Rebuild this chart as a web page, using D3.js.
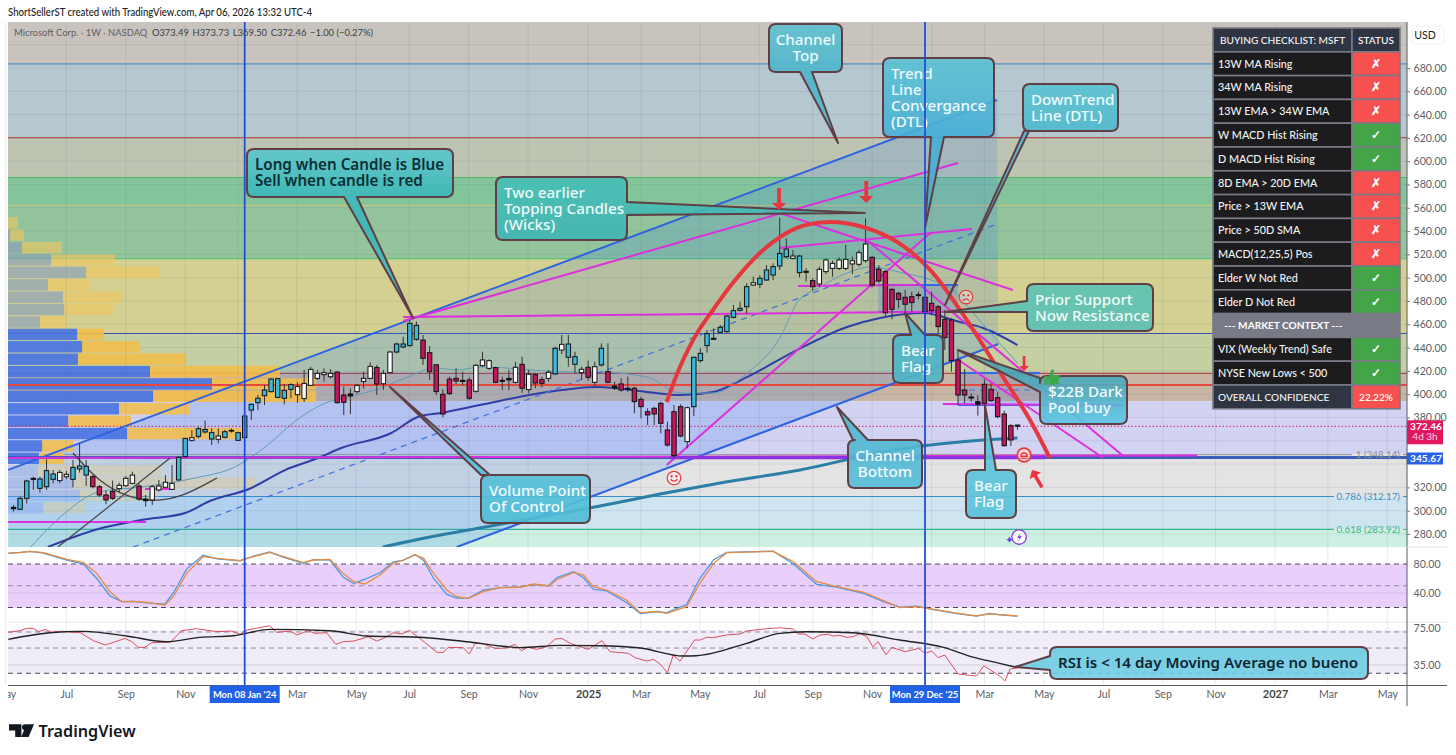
<!DOCTYPE html>
<html>
<head>
<meta charset="utf-8">
<title>MSFT weekly</title>
<script src="https://cdn.jsdelivr.net/npm/d3@7"></script>
<style>
  html, body { margin: 0; padding: 0; background: #fff; }
  text { font-family: Lato, "Open Sans", sans-serif; }
  text.note { font-family: "Noto Sans", "Open Sans", sans-serif; }
</style>
</head>
<body>
<svg id="chart" width="1456" height="755"></svg>
<script>
// weeks are counted from Mon 08 Jan '24
const firstWeek = -35;
const candleHigh = [304.9,312,326.4,329.2,329.2,344.1,334.9,334.9,334.1,343.5,357.8,343.5,330.6,322.1,317.2,325.8,324.1,329.8,333.5,323.5,313.5,322.1,326.4,330.6,339.2,346.4,362.1,369.3,372.1,377.3,370.7,370.7,369.3,370.4,367.8,381.3,392.2,399.3,407.9,413.6,413.6,408.7,409.3,410.2,420.8,423.6,420.8,422.2,421.6,419.9,406.5,405,408.7,419.3,427.4,425.1,420.8,436.8,444.2,449.4,463.7,462.3,450.8,441.4,425.3,404.2,415,422.2,419.3,414.5,425.9,436.5,430,423.6,415.1,420.8,427.9,432.2,420.8,418,415.1,420.8,440.8,450.8,450.8,436.5,423.6,428.8,427.9,443.7,443.7,410.8,413.6,415.1,406.5,397.9,387.9,389.3,393.6,376.4,390.7,391.3,389.3,432.2,439.4,455.1,456.5,459.4,468,476.6,479.4,495.2,500.9,502.3,510.9,512.3,551.5,533.8,523.8,519.5,508,499.5,509.5,516.6,514.6,517.5,528.1,518.1,523.8,551,518.6,510.9,506.6,490.9,488,489.5,488,488,485.5,488,476.6,472.3,465.1,437.9,421.6,400.7,399.3,412.8,409.3,402.2,385.9,374.4,373.73];
const candleBodyTop = [302.9,310.6,325.5,327.8,327.2,334.4,331.5,332.9,331.2,337.2,338.4,338.1,329.2,320.6,313.5,316.6,321.8,327.8,330.6,321.2,310,320.6,321.2,324.4,323.5,345.8,362.1,362.7,370.4,369.8,367,364.1,367.8,369,367,381.3,391.3,396.5,403.6,413,413.3,403.3,408.2,406.5,409.3,421.3,417.9,418.5,417.9,419,399.3,400.2,407.6,413.6,423.9,423,417.9,436.2,443.1,443.1,460.8,459.1,446.5,435.6,425.3,399.9,413,413.6,411.9,412.2,424.8,429.4,428.8,422.8,411.9,413.6,423.1,425.7,417.1,416.8,412.5,418.8,439.4,442.8,443.1,432.2,421.4,423.1,423.6,439.4,419.4,407,408.8,405.1,405.1,395.6,385,387.9,392.2,369.3,385,389.3,388.4,431.7,435.1,452,448,457.4,467.1,471.7,473.7,492.3,495.7,499.5,506.6,509.5,520.9,524.6,518.6,518.6,505.5,497.5,507.2,515.2,512.3,515.2,515.8,514.6,521.5,528.9,517.5,507.2,505.2,490,486.6,483.2,483.7,485.4,483.2,478,475.1,464.3,463.7,429.4,403.6,397.6,393.6,408.5,404.2,397,383,373,373.49];
const candleBodyLow = [301.7,301.2,310.6,326.9,319.2,320.6,326.9,325.8,329.2,326.9,335.8,330.6,320.6,313.5,309.2,310.6,318.9,321.5,323.5,310,308.6,309.2,317.8,320.1,318.3,326.4,346.4,360.4,363.8,367.6,361.5,361.3,363,368.4,360.4,362.7,386.4,392.7,398.7,402.2,397.3,396.5,404.2,399.6,396.2,407.6,413.6,416.8,415,392.7,393,398.5,402.2,411,413.6,408.7,409,418.5,436.2,440.5,441.7,447.1,430.8,419.3,402.2,383,400.5,411.3,411,396.5,402.5,424.5,422.2,410.2,411.1,412.2,410.2,405.1,403.9,409.6,409.3,413.6,417.4,437.9,431.7,425.7,418.5,414.5,410.2,425.1,410.2,405.3,403.6,404.2,393.6,389.3,382.2,383,375,356.4,347.3,364.1,359.3,389.3,428.8,441.7,447.1,453.1,453.7,466,472,475.1,493.7,494.3,498,502.3,510,518,516.6,504.3,504.6,492.3,494.6,505.2,508,508,508,511.8,511.5,514.6,493.7,497.2,470,472.9,481.4,477.2,478.6,484.6,470.9,471.7,458,448.5,428.8,399.3,399.3,396.7,391.3,392.2,394.4,380.7,355.8,360.7,372.46];
const candleLow = [299.2,300.6,306.3,317.8,315.5,317.8,323.5,323.5,327.2,320.1,332.7,321.2,319.2,312,305.5,309.2,315.5,320.6,322.6,308.6,303.5,304.9,316.3,319.2,317.8,325.8,345,359.3,362.1,366.4,356.4,357.8,362.1,367,359.8,362.1,377.9,386.4,390.7,401.6,396.5,391.3,396.5,392.7,393.3,407,412.2,410.8,413.6,392.2,382.1,383,400.7,405,412.8,399.3,403.6,417.9,435.1,439.4,440.8,445.9,425.1,412.2,399.3,380.1,399.3,408.7,407.9,395,401.3,423.6,420.8,409.3,403.6,403.6,409.3,401.3,400.8,405.1,405.9,410.8,416.5,434.5,423.6,417.9,412.2,411.6,406.5,423.6,409.3,403.6,402.2,402.2,383.6,379.3,373.6,373.6,366.4,355,345,363,353.5,381.3,427.1,435.7,446.5,452.3,452.8,465.1,470.9,468.8,492.9,490.9,497.5,498,506.6,516.6,515.8,500.3,496.6,488.9,492.3,503.2,500.9,506.6,506.6,503.2,509.5,512.9,491.7,495.2,466.6,464.3,473.7,469.4,470.9,481.4,466.6,468,452.2,437.9,419.3,390.7,392.2,393.6,381.6,389.3,393.6,379.3,355,355.5,369.5];
const candleImpulse = "kbbkbbbwwbbbrrrrwwwrkwwwwbbwbbbwbkbbbbbbbbbwwwwwwrrkwwwrwwbbbbrrrrrrkrwwwrkkwrwrrwbwbbwrwbrkrkrrrrrrrrwbbbkbbbbbwbbbbbwbkrwwwwwwwwrrrrrrrkrrrrrrrkkrrrrrk".split("");

// indicator curves, read at these weeks
const smaLongWeeks = [20.9,28.1,35.6,44.7,53.8,62.9,72,84.1,98.2,108.3,117];
const smaLong = [268.8,277.4,285.2,294.6,304,314.3,323.8,335,352.1,359,362.4];
const maSlowWeeks = [-29.8,-22.2,-15.7,-9,-5.6,1,6.1,11.1,14.6,22.2,26.2,29.7,35.6,45.8,53.4,60.9,66,70.9,76.1,83.6,91.2,96.2,102.7,108.3,111.8,117];
const maSlow = [268.8,284.3,292,298,307.5,319.5,334.9,345.2,353.8,366.7,380.4,383.9,390.7,401.9,406.2,401.9,399.3,401.9,414.8,437.9,457.7,465.4,469.7,462,456.8,442.2];
const maFastWeeks = [-32.4,-27.2,-22.2,-15.7,-7.5,-1.5,2.5,8.5,12.2,15.6,19.7,24.7,28.8,32.3,35.6,49.3,53.4,60.9,66,70.9,76.1,81.1,83.6,87.1,91.2,94.7,99.7,104.8,107.6,110.3,117];
const maFast = [268.8,298,316,320.3,328.1,337.5,352.1,380.4,392.4,397.6,403.6,414.8,422.5,420.8,423.4,419,419,414.8,401,401,418.2,449.1,478.3,492,504,509.2,504,496.3,487.7,469.7,426.8];
const arcWeeks = [63.9,65.9,68.5,70.9,73.9,78.5,83.6,88.6,93.6,98.8,103.8,108.3,114.8,118.9,121.9];
const arcPrices = [393.3,423.4,452.5,472.3,495.5,523.8,542.7,547.8,543.5,530.6,506.6,472.3,414.8,377.9,345.2];
const curveWeeks = [-26,-21.9,-17.8,-13.9,-9.4,-4.2];
const curvePrices = [349.5,323.8,311.8,307.5,311.8,328.1];

// drawn trend lines as [week, price, week, price]
const channelLines = [[-35.8,335,113.9,652.5],[32.1,268.8,114.1,443.1]];
const channelMid = [-16.9,268.8,113.9,546.1];
const magentaLines = [[24,462.8,108,598.5],[24,466.3,116.2,471.4],[-35.8,345.2,144.2,347.4],[63.9,339.2,103.8,538.4],[81,555.5,116.3,489.4],[94.2,532.3,133,347],[108.3,428.5,130,345.2],[81,525.5,110.1,541.8],[83.8,492.9,101.8,493.7],[105.7,391.6,133,390.7],[-35.8,290.3,-14.9,290.3],[-15.1,318.6,-11,318.6]];
const blackLine = [-28.3,268.8,-11.3,345.2];
const pocLine = [64.4,345.6,121.2,345.6];
const flagBoxes = [[95.9,493.7,108,470.6],[108,418.2,120.4,390.7]];
const flagMid = [108,403.6,120.4,403.6];

// fibonacci zones: upper level of each band
const fibLevels = [683.5,620.3,586,562,516.3,452.1,417.8,393.9,348.14,312.17,283.92];
const fibLabels = [["1 (348.14)",348.14],["0.786 (312.17)",312.17],["0.618 (283.92)",283.92]];
const redLevel = 407.9;
const lastClose = 372.46;
const lastPoc = 345.67;

// volume profile, top row first
const profileTop = 552;
const profileStep = 10.64;
const profileUp = [0,.6,4.5,13.9,25.2,12.9,17.7,18.1,10.3,22.3,23.9,22.6,45.8,65.8,46.8,35.8,19.4,38.4,11,10,9.7,21,23.2,11.3];
const profileDown = [3.2,4.5,12.9,20.6,23.9,13.5,19,15.8,8.1,8.7,18.7,34.8,41.9,33.5,52.6,22.6,20.3,37.4,10.3,8.1,39.7,58.7,25.2,13.9];

// stochastic pane
const stochWeeks = [-35.8,-34,-32.5,-30.5,-26.9,-24.4,-22.4,-20.4,-18.6,-16.9,-14.8,-12.1,-10.8,-8.8,-6.3,-4.2,-0.7,1.3,3.8,5.9,8.9,10.4,12.9,14.9,16.5,18.2,20.5,22.5,24,25.8,27.1,28.6,30.6,32.1,33.9,36.1,38.7,41.7,43.7,46,47.2,49.8,51.3,52.8,54.8,57.8,59.9,62.4,63.9,66.9,68.9,71,73,80,83.1,86.6,89.6,93.7,96.7,99.2,101.7,104.3,107.8,110.8,112.8,114.3,117];
const stochSlow = [94.7,95.6,97.5,95.6,86.5,81.8,67.1,41.8,28,28.5,27.1,23.4,34.9,67.1,90.1,87.8,84.6,90.1,96.1,90.1,81.8,85.5,86.4,67.1,55.6,52.4,64.8,80.9,85.5,92.4,87.8,67.1,44.1,34.9,32.5,41.8,47.4,47.8,52.4,49.7,57.9,68.5,64.8,48.7,44.1,30.3,12.9,14.2,11.9,21.1,53.3,80.9,95.6,97.5,83.2,55.6,48.7,41,29.4,19.8,21.2,17.5,12.1,8.4,11.2,10.1,8.3];
const stochFast = [95,96,97.5,95,85.5,80,60,36,28,28.5,26.5,24.5,40,73,92,87,84.5,91,96.5,89,81,86,85.5,62,53,59,68,83,85,93,85,60,38,33,33,44,47.5,48.5,51.5,50,61,69.5,61,45,43,27,11.5,14.5,13,24,60,86,96,97.8,80,52,48,39.5,28,20.5,22,17,11.5,8,12,10,8];
const stochLevels = [80,50,20];

// RSI pane
const rsiWeeks = [-35.8,-34,-33,-32,-31.2,-30.2,-29.2,-28,-24.9,-22.9,-21.1,-18.1,-17.1,-16.1,-15.1,-14.1,-11.3,-9.5,-7.3,-4.2,-2,-0.7,0.3,3.8,4.8,6.9,7.9,9.6,10.6,12.4,13.8,14.9,16.5,18.7,20,21,22.5,23.8,24.9,26.5,29.1,30.1,30.8,33.1,34,34.9,35.9,37.9,38.7,39.7,40.9,41.9,42.9,44.2,45.7,47,48,49.3,52,54.1,55.3,58.1,59.1,60.9,61.9,62.9,64,64.9,65.9,68.1,69,69.9,70.9,72.9,75,76,78.5,81,83.1,83.8,84.8,86,87.1,88.4,89.1,90.1,91.1,92.1,93.2,94.2,95.1,95.9,97.1,98,100,102,103,104,105,106,108,110.8,111.9,114.3,115.1,115.9,117];
const rsi = [70.6,72.4,74.9,74.9,71.3,73.8,70.6,71.7,70.2,61.5,56.8,64,60.4,54.2,54.2,59.3,60,72.4,74.6,71.3,72,68.4,73.1,77.8,70.6,72,67.7,72.4,69.5,70.2,57.5,60.4,61.1,65.8,61.1,64,70.2,68.8,72.7,64,48.8,48.8,54.2,53.9,47,58.6,58.6,53.1,53.1,53.9,57.5,50.6,54.6,52,54.9,63.3,64,58.6,52,61.5,49.5,47.7,43,39.3,41.1,36,26.6,45.9,39,62.2,62.2,65.1,64.8,67.7,68.8,72,74.2,75.6,74.2,68.8,68.8,63.3,67.7,68.4,66.6,67.3,65.1,65.8,69.1,65.8,54.9,60.4,46.2,54.2,49.5,53.1,47.7,50.2,43,45.9,25.2,23,34.2,23,17.6,30.6,31.8];
const rsiMaWeeks = [-35.8,-33,-29.5,-24.4,-17.9,-11.8,-6.8,-1.7,3.8,12.9,18.5,25.5,33.6,38.7,41.7,47.7,53.8,59.9,66.4,68.4,76,81,85.1,92.1,99.2,105.8,110.4,114.3,116.6];
const rsiMa = [62.9,66.6,70.2,71.7,66.6,60.4,65.1,66.9,73.8,72.4,66.6,65.5,60.4,55.7,53.9,56.4,56,53.5,44.8,45.1,58.6,69.5,71.3,70.2,62.2,54.2,43.3,36.8,32.8];
const rsiLevels = [71,53.5,26];

// axes
const priceTicks = [680,660,640,620,600,580,560,540,520,500,480,460,440,420,400,380,320,300,280];
const tickWeeks = [-36.2,-27,-18,-9,7.9,16.9,24.9,33.9,42.9,52,60,68.9,77.9,86,95,112,121,130,139,147,156,164,173];
const tickLabels = ["May","Jul","Sep","Nov","Mar","May","Jul","Sep","Nov","2025","Mar","May","Jul","Sep","Nov","Mar","May","Jul","Sep","Nov","2027","Mar","May"];
const yearGridWeeks = [-1,104];
const crossWeeks = [0,103];
const crossLabels = ["Mon 08 Jan '24","Mon 29 Dec '25"];

// checklist panel
const checkLabels = ["13W MA Rising","34W MA Rising","13W EMA > 34W EMA","W MACD Hist Rising","D MACD Hist Rising","8D EMA > 20D EMA","Price > 13W EMA","Price > 50D SMA","MACD(12,25,5) Pos","Elder W Not Red","Elder D Not Red","--- MARKET CONTEXT ---","VIX (Weekly Trend) Safe","NYSE New Lows < 500","OVERALL CONFIDENCE"];
const checkStatus = ["✗","✗","✗","✓","✓","✗","✗","✗","✗","✓","✓","","✓","✓","22.22%"];

const paneL = 8, paneR = 1407, paneT = 22, paneB = 547;
const svg = d3.select("#chart");
const x = d3.scaleLinear().domain([0,103]).range([244.7,925]);
const y = d3.scaleLinear().domain([680,280]).range([68,534]);
const yStoch = d3.scaleLinear().domain([80,20]).range([564,607.5]);
const yRsi = d3.scaleLinear().domain([75,35]).range([628.3,665]);
const xProfile = d3.scaleLinear().domain([0,100]).range([0,310]);

const defs = svg.append("defs");
defs.append("clipPath").attr("id","mainClip").append("rect").attr("x",paneL).attr("y",paneT).attr("width",paneR-paneL).attr("height",paneB-paneT);

function lineOf(weeks, vals, scale, curve) {
  return d3.line().x((d,i)=>x(weeks[i])).y(d=>scale(d)).curve(curve||d3.curveLinear)(vals);
}
function segment(g, s, color, width, dash) {
  return g.append("line").attr("x1",x(s[0])).attr("y1",y(s[1])).attr("x2",x(s[2])).attr("y2",y(s[3]))
    .attr("stroke",color).attr("stroke-width",width).attr("stroke-dasharray",dash||null);
}

svg.append("text").attr("x",8).attr("y",15.5).attr("font-size",10.8).attr("fill","#222").attr("font-weight",500)
  .attr("textLength",304).attr("lengthAdjust","spacingAndGlyphs")
  .text("ShortSellerST created with TradingView.com, Apr 06, 2026 13:32 UTC-4");

// ---- main pane
const main = svg.append("g").attr("clip-path","url(#mainClip)");

const bandColors = ["#c8c3bc","#b5c7cf","#bdc5b2","#84c49b","#93c49c","#d3d092","#c5d0a2","#c9b5a4","#d2d2f3","#e3e3e3","#cfe4f1","#cef0e3"];
const bandEdges = [760].concat(fibLevels,[260]);
main.selectAll("rect.band").data(bandColors).join("rect").attr("class","band")
  .attr("x",paneL).attr("width",paneR-paneL)
  .attr("y",(d,i)=>y(bandEdges[i])).attr("height",(d,i)=>y(bandEdges[i+1])-y(bandEdges[i])).attr("fill",d=>d);

// grid
main.selectAll("line.hgrid").data(d3.range(280,720,20)).join("line").attr("class","hgrid")
  .attr("x1",paneL).attr("x2",paneR).attr("y1",d=>y(d)).attr("y2",d=>y(d)).attr("stroke","#5a6478").attr("stroke-opacity",.12);
svg.append("g").selectAll("line").data(tickWeeks.concat(yearGridWeeks)).join("line")
  .attr("x1",d=>x(d)).attr("x2",d=>x(d)).attr("y1",paneT).attr("y2",685).attr("stroke","#5a6478").attr("stroke-opacity",.13);

// fib lines
const fibColors = ["#6f9fc4","#b5514f","#4cb963","#c3c77e","#59c47c","#3a4fb5","#b0444f","none","#9e9e9e","#3a8fc4","#2eb88a"];
const fibEnds = [paneR,paneR,paneR,paneR,paneR,paneR,paneR,paneR,1352,1334,1334];
main.selectAll("line.fib").data(fibLevels).join("line").attr("class","fib")
  .attr("x1",paneL).attr("x2",(d,i)=>fibEnds[i]).attr("y1",d=>y(d)).attr("y2",d=>y(d))
  .attr("stroke",(d,i)=>fibColors[i]).attr("stroke-width",(d,i)=>i==0?1.6:1.2);

// channel tint
const tint = [[channelLines[0][0],channelLines[0][1]],[channelLines[0][2],channelLines[0][3]],[channelLines[1][2],channelLines[1][3]],[channelLines[1][0],channelLines[1][1]],[channelLines[0][0],channelLines[1][1]]];
main.append("path").attr("d",d3.line().x(d=>x(d[0])).y(d=>y(d[1]))(tint)+"Z").attr("fill","#2a78e8").attr("fill-opacity",.18);

// volume profile
const rowY = i => y(profileTop-i*profileStep);
const inValue = i => i>=9 && i<=19;
const profile = main.append("g");
profile.selectAll("rect.dn").data(profileDown).join("rect").attr("class","dn")
  .attr("x",(d,i)=>paneL+xProfile(profileUp[i])).attr("y",(d,i)=>rowY(i)).attr("width",d=>xProfile(d))
  .attr("height",(d,i)=>rowY(i+1)-rowY(i)-1)
  .attr("fill",(d,i)=>inValue(i)?"#f3bd4a":"#f2c65c").attr("fill-opacity",(d,i)=>inValue(i)?.88:(i>19?.28:.6));
profile.selectAll("rect.up").data(profileUp).join("rect").attr("class","up")
  .attr("x",paneL).attr("y",(d,i)=>rowY(i)).attr("width",d=>xProfile(d))
  .attr("height",(d,i)=>rowY(i+1)-rowY(i)-1)
  .attr("fill",(d,i)=>inValue(i)?"#4a74e2":(i>19?"#7f9df0":"#8ba3b8")).attr("fill-opacity",(d,i)=>inValue(i)?.92:(i>19?.35:.7));

// flag boxes
flagBoxes.forEach(b=>{
  main.append("rect").attr("x",x(b[0])).attr("y",y(b[1])).attr("width",x(b[2])-x(b[0])).attr("height",y(b[3])-y(b[1]))
    .attr("fill","#2c62e0").attr("fill-opacity",.2);
  segment(main,[b[0],b[1],b[2],b[1]],"#2f6ae8",2);
  segment(main,[b[0],b[3],b[2],b[3]],"#2f6ae8",2);
});
segment(main,flagMid,"#3f72e0",1.2,"6 5");

// moving averages
main.append("path").attr("d",lineOf(smaLongWeeks,smaLong,y,d3.curveMonotoneX)).attr("fill","none").attr("stroke","#2b7fa6").attr("stroke-width",3);
main.append("path").attr("d",lineOf(maSlowWeeks,maSlow,y,d3.curveMonotoneX)).attr("fill","none").attr("stroke","#2e3ea6").attr("stroke-width",2);
main.append("path").attr("d",lineOf(maFastWeeks,maFast,y,d3.curveMonotoneX)).attr("fill","none").attr("stroke","#5f9cb8").attr("stroke-width",1);
segment(main,channelMid,"#3d6fe0",1.2,"6 5");

// price lines
[[redLevel,"#e8483c",2.2],[lastPoc,"#3a5fb8",3]].forEach(l=>{
  main.append("line").attr("x1",paneL).attr("x2",paneR).attr("y1",y(l[0])).attr("y2",y(l[0])).attr("stroke",l[1]).attr("stroke-width",l[2]);
});
main.append("line").attr("x1",paneL).attr("x2",paneR).attr("y1",y(lastClose)).attr("y2",y(lastClose))
  .attr("stroke","#d81b60").attr("stroke-width",1).attr("stroke-dasharray","1.5 2");

// trend lines
channelLines.forEach(s=>segment(main,s,"#2d63e0",2));
magentaLines.forEach(s=>segment(main,s,"#dc30de",2));
segment(main,pocLine,"#8d32e2",3.4);
segment(main,blackLine,"#444",1.2);
main.append("path").attr("d",lineOf(curveWeeks,curvePrices,y,d3.curveBasis)).attr("fill","none").attr("stroke","#444").attr("stroke-width",1.3);

// candles
const fillOf = {b:"#3cb9dc",w:"#fdfdfd",r:"#c4155f",k:"#111"};
const candles = main.append("g").selectAll("g").data(candleHigh).join("g");
candles.append("line").attr("x1",(d,i)=>x(firstWeek+i)).attr("x2",(d,i)=>x(firstWeek+i))
  .attr("y1",d=>y(d)).attr("y2",(d,i)=>y(candleLow[i])).attr("stroke","#333").attr("stroke-width",1);
candles.append("rect").attr("x",(d,i)=>x(firstWeek+i)-2.2).attr("width",4.4)
  .attr("y",(d,i)=>y(candleBodyTop[i])).attr("height",(d,i)=>Math.max(.8,y(candleBodyLow[i])-y(candleBodyTop[i])))
  .attr("fill",(d,i)=>fillOf[candleImpulse[i]]).attr("stroke","#111").attr("stroke-width",1);

// arc
main.append("path").attr("d",lineOf(arcWeeks,arcPrices,y,d3.curveCatmullRom)).attr("fill","none").attr("stroke","#e5373d").attr("stroke-width",4);

// ---- sub panes
svg.append("rect").attr("x",paneL).attr("y",yStoch(80)).attr("width",paneR-paneL).attr("height",yStoch(20)-yStoch(80)).attr("fill","#e9d0fc");
svg.append("rect").attr("x",paneL).attr("y",yRsi(71)-2).attr("width",paneR-paneL).attr("height",yRsi(26)-yRsi(71)+2).attr("fill","#f0edf9");
svg.append("line").attr("x1",paneL).attr("x2",paneR).attr("y1",yRsi(35)).attr("y2",yRsi(35)).attr("stroke","#bbb").attr("stroke-opacity",.6);
svg.append("line").attr("x1",paneL).attr("x2",paneR).attr("y1",yStoch(40)).attr("y2",yStoch(40)).attr("stroke","#a98fd0").attr("stroke-opacity",.35);
svg.append("line").attr("x1",paneL).attr("x2",1447).attr("y1",622).attr("y2",622).attr("stroke","#e4e4ea");
svg.selectAll("line.stochLevel").data(stochLevels).join("line").attr("class","stochLevel")
  .attr("x1",paneL).attr("x2",paneR).attr("y1",d=>yStoch(d)).attr("y2",d=>yStoch(d))
  .attr("stroke",(d,i)=>i==1?"#8f8a9a":"#4a4a55").attr("stroke-width",1).attr("stroke-dasharray","5 4");
svg.selectAll("line.rsiLevel").data(rsiLevels).join("line").attr("class","rsiLevel")
  .attr("x1",paneL).attr("x2",paneR).attr("y1",d=>yRsi(d)).attr("y2",d=>yRsi(d))
  .attr("stroke",(d,i)=>i==2?"#4a4a55":"#8f8a9a").attr("stroke-width",1).attr("stroke-dasharray","5 4");
svg.append("path").attr("d",lineOf(stochWeeks,stochFast,yStoch)).attr("fill","none").attr("stroke","#4a9ae6").attr("stroke-width",1.3);
svg.append("path").attr("d",lineOf(stochWeeks,stochSlow,yStoch)).attr("fill","none").attr("stroke","#ea8a3c").attr("stroke-width",1.3);
svg.append("path").attr("d",lineOf(rsiWeeks,rsi,yRsi)).attr("fill","none").attr("stroke","#d9505e").attr("stroke-width",1);
svg.append("path").attr("d",lineOf(rsiMaWeeks,rsiMa,yRsi,d3.curveMonotoneX)).attr("fill","none").attr("stroke","#222").attr("stroke-width",1.4);

// ---- callouts, pixel layout
const callouts = [
  {box:[247,149,453,197],side:"bottom",t:[344,357],tip:[413,318],fill:["#58c6cc","#3ab8ba"],color:"#0c2f33",weight:600,size:15.2,lines:["Long when Candle is Blue","Sell when candle is red"],pad:8},
  {box:[769,24,842,72],side:"bottom",t:[800,812],tip:[838,143],fill:["#5cc0d0","#4db5cc"],color:"#eefbfb",size:15.2,lines:["Channel","Top"],center:true},
  {box:[883,58,994,137],side:"bottom",t:[931,944],tip:[925,228],fill:["#5cc2d4","#47aed6"],color:"#f1fbfc",size:15.2,lines:["Trend","Line","Convergance","(DTL)"],pad:8},
  {box:[1023,84,1118,131],side:"bottom",t:[1024,1029],tip:[945,305],fill:["#5cc3d2","#4db9cd"],color:"#f1fbfc",size:15.2,lines:["DownTrend","Line (DTL)"],pad:8},
  {box:[496,177,627,240],side:"right",t:[202,215],tip:[865,213],fill:["#46bfb8","#3fb4b4"],color:"#eefbf9",size:15.2,lines:["Two earlier","Topping Candles","(Wicks)"],pad:8},
  {box:[1027,284,1153,331],side:"left",t:[301,312],tip:[945,312],fill:["#5cc3b2","#5cbfb4"],color:"#f1fbf9",size:15.2,lines:["Prior Support","Now Resistance"],pad:8},
  {box:[893,335,943,383],side:"top",t:[911,925],tip:[905,313],fill:["#4eb4c8","#50b6c6"],color:"#f1fbfc",size:15.2,lines:["Bear","Flag"],pad:8},
  {box:[966,470,1016,518],side:"top",t:[985,996],tip:[985,405],fill:["#5ac4dc","#58c0da"],color:"#f1fbfc",size:15.2,lines:["Bear","Flag"],pad:8},
  {box:[848,440,922,488],side:"top",t:[853,868],tip:[837,407],fill:["#50b8d2","#58bcd8"],color:"#f1fbfc",size:15.2,lines:["Channel","Bottom"],center:true},
  {box:[1040,376,1127,424],side:"left",t:[378,392],tip:[958,350],fill:["#4aa6b4","#5ec6e6"],color:"#f1fbfc",size:15.2,lines:["$22B Dark","Pool buy"],pad:8},
  {box:[481,475,590,523],side:"top",t:[481,490],tip:[390,387],fill:["#55c0d8","#4fbcd6"],color:"#f1fbfc",size:15.2,lines:["Volume Point","Of Control"],pad:8},
  {box:[1050,647,1368,679],side:"left",t:[656,670],tip:[1015,667],fill:["#6ccbe0","#72cde4"],color:"#0c2530",weight:600,size:15.1,lines:["RSI is < 14 day Moving Average no bueno"],pad:8}
];
function calloutPath(c) {
  const [x0,y0,x1,y1] = c.box, r = 7, t = c.t, tip = c.tip;
  let p = `M${x0+r},${y0}`;
  if (c.side=="top") p += `L${t[0]},${y0}L${tip}L${t[1]},${y0}`;
  p += `L${x1-r},${y0}Q${x1},${y0} ${x1},${y0+r}`;
  if (c.side=="right") p += `L${x1},${t[0]}L${tip}L${x1},${t[1]}`;
  p += `L${x1},${y1-r}Q${x1},${y1} ${x1-r},${y1}`;
  if (c.side=="bottom") p += `L${t[1]},${y1}L${tip}L${t[0]},${y1}`;
  p += `L${x0+r},${y1}Q${x0},${y1} ${x0},${y1-r}`;
  if (c.side=="left") p += `L${x0},${t[1]}L${tip}L${x0},${t[0]}`;
  p += `L${x0},${y0+r}Q${x0},${y0} ${x0+r},${y0}Z`;
  return p;
}
callouts.forEach((c,k)=>{
  const grad = defs.append("linearGradient").attr("id","cg"+k).attr("gradientUnits","userSpaceOnUse")
    .attr("x1",0).attr("x2",0).attr("y1",c.box[1]).attr("y2",c.box[3]);
  grad.append("stop").attr("offset",0).attr("stop-color",c.fill[0]);
  grad.append("stop").attr("offset",1).attr("stop-color",c.fill[1]);
  svg.append("path").attr("d",calloutPath(c)).attr("fill",`url(#cg${k})`).attr("fill-opacity",.9)
    .attr("stroke","#5f3f44").attr("stroke-width",2).attr("stroke-linejoin","round");
  const lh = 16, cy = (c.box[1]+c.box[3])/2, n = c.lines.length;
  c.lines.forEach((l,i)=>{
    svg.append("text").attr("class","note").attr("x",c.center?(c.box[0]+c.box[2])/2:c.box[0]+c.pad)
      .attr("y",cy-(n-1)*lh/2+i*lh+5.2).attr("text-anchor",c.center?"middle":"start")
      .attr("font-size",c.size).attr("font-weight",c.weight||500).attr("fill",c.color).text(l);
  });
});

// ---- markers
const downArrows = [[80.9,558.1,22,1],[94.1,564.1,22,1],[118,419.9,15,.7]];
function drawArrow(g,tipX,tipY,len,k,angle) {
  const h = 7*k, w = 7*k, s = 1.9*k;
  g.append("path").attr("d",`M0,0L${-w},${-h}L${-s},${-h}L${-s},${-len}L${s},${-len}L${s},${-h}L${w},${-h}Z`)
    .attr("transform",`translate(${tipX},${tipY}) rotate(${angle})`).attr("fill","#ee3340");
}
downArrows.forEach(a=>drawArrow(svg,x(a[0]),y(a[1]),a[2],a[3],0));
drawArrow(svg,x(119.2),y(334.9),20,.95,150);

function face(wk,pr,mouth) {
  const g = svg.append("g").attr("transform",`translate(${x(wk)},${y(pr)})`).attr("fill","none").attr("stroke","#e53d3d").attr("stroke-width",1.2);
  g.append("circle").attr("r",6.8).attr("fill","#fff").attr("fill-opacity",.35);
  g.append("circle").attr("cx",-2.4).attr("cy",-1.8).attr("r",.6);
  g.append("circle").attr("cx",2.4).attr("cy",-1.8).attr("r",.6);
  g.append("path").attr("d",mouth);
}
face(65,328,"M-3.5,1.2Q0,5 3.5,1.2");
face(109.2,483.4,"M-3.5,3.6Q0,0 3.5,3.6");
const target = svg.append("g").attr("transform",`translate(${x(118)},${y(347.8)})`).attr("fill","none").attr("stroke","#e53d3d");
target.append("circle").attr("r",6.8).attr("stroke-width",1.8).attr("fill","#f6d6dc");
target.append("path").attr("d","M-3.2,1.2A3.2,3.2 0 1 1 3.2,1.2Z").attr("stroke-width",1.4);
target.append("line").attr("x1",-3.6).attr("x2",3.6).attr("y1",3.2).attr("y2",3.2).attr("stroke-width",1.2);
const flash = svg.append("g").attr("transform",`translate(${x(117.1)+1},${y(277.4)})`);
flash.append("circle").attr("r",7.2).attr("fill","#fff").attr("stroke","#8a35d8").attr("stroke-width",1.3);
flash.append("path").attr("d","M1.6,-4.4L-2.2,.6H.4L-1,4.4L2.8,-.8H.2Z").attr("fill","#8a35d8");
flash.append("path").attr("d","M-9.6,-.6L-8.4,1.6L-6.2,2.6L-8.4,3.6L-9.6,5.8L-10.8,3.6L-13,2.6L-10.8,1.6Z").attr("fill","#6a3cf0");
const thumb = svg.append("g").attr("transform",`translate(${x(122.3)},${y(413.9)})`).attr("fill","#3fa64a");
thumb.append("rect").attr("x",-8).attr("y",-2).attr("width",3.2).attr("height",8.5);
thumb.append("path").attr("d","M-4,-1.8L-.8,-8.6L1.6,-8.2L.8,-3H7.2L5.8,6.5H-4Z");

// fib labels
const fibColor = {"1 (348.14)":"#8f8f8f","0.786 (312.17)":"#3a8fc4","0.618 (283.92)":"#2eb88a"};
fibLabels.forEach(f=>{
  svg.append("text").attr("x",1400).attr("y",y(f[1])+3.4).attr("text-anchor","end").attr("font-size",9.8).attr("fill",fibColor[f[0]]).text(f[0]);
  svg.append("line").attr("x1",1403).attr("x2",paneR).attr("y1",y(f[1])).attr("y2",y(f[1])).attr("stroke",fibColor[f[0]]);
});

// ---- crosshairs
svg.selectAll("line.cross").data(crossWeeks).join("line").attr("class","cross")
  .attr("x1",d=>x(d)).attr("x2",d=>x(d)).attr("y1",paneT).attr("y2",686).attr("stroke","#1f4fd8").attr("stroke-width",1.8);

// ---- legend line
const legend = svg.append("text").attr("x",14).attr("y",36).attr("font-size",10.4).attr("fill","#5d6066")
  .attr("textLength",359).attr("lengthAdjust","spacingAndGlyphs");
legend.append("tspan").text("Microsoft Corp. · 1W · NASDAQ");
[["O373.49",5],["H373.73",4],["L369.50",4],["C372.46",4],["−1.00 (−0.27%)",4]].forEach(t=>{
  legend.append("tspan").attr("dx",t[1]).attr("fill","#3c3f46").text(t[0]);
});

// ---- right scale
svg.append("rect").attr("x",paneR).attr("y",0).attr("width",49).attr("height",22).attr("fill","#fff");
svg.append("line").attr("x1",paneR).attr("x2",paneR).attr("y1",paneT).attr("y2",706).attr("stroke","#555c66").attr("stroke-width",1);
const yAxis = d3.axisRight(y).tickValues(priceTicks).tickFormat(d3.format(".2f")).tickSize(3).tickPadding(3.5);
const yG = svg.append("g").attr("transform",`translate(${paneR},0)`).call(yAxis);
const axisStoch = d3.axisRight(yStoch).tickValues([80,40]).tickFormat(d3.format(".2f")).tickSize(0).tickPadding(6.5);
const sG = svg.append("g").attr("transform",`translate(${paneR},0)`).call(axisStoch);
const axisRsi = d3.axisRight(yRsi).tickValues([75,35]).tickFormat(d3.format(".2f")).tickSize(0).tickPadding(6.5);
const rG = svg.append("g").attr("transform",`translate(${paneR},0)`).call(axisRsi);
[yG,sG,rG].forEach(g=>{
  g.select(".domain").remove();
  g.selectAll("text").attr("font-size",10.6).attr("fill","#5d6066").attr("font-family",'Lato, sans-serif');
  g.selectAll("line").attr("stroke","#777");
});
svg.append("line").attr("x1",paneR).attr("x2",1447).attr("y1",547).attr("y2",547).attr("stroke","#e4e4ea");

const usd = svg.append("g");
usd.append("rect").attr("x",1412).attr("y",26).attr("width",32).attr("height",18).attr("rx",3).attr("fill","#fff").attr("stroke","#f0f0f3");
usd.append("text").attr("x",1425).attr("y",39).attr("text-anchor","middle").attr("font-size",10.6).attr("fill","#222").text("USD");

svg.append("rect").attr("x",paneR).attr("y",y(lastClose)-6).attr("width",36).attr("height",24).attr("fill","#e1175f");
svg.append("text").attr("x",1426).attr("y",y(lastClose)+4).attr("text-anchor","middle").attr("font-size",10.2).attr("font-weight",700).attr("fill","#fff").text(lastClose.toFixed(2));
svg.append("text").attr("x",1425).attr("y",y(lastClose)+14).attr("text-anchor","middle").attr("font-size",10).attr("fill","#ffd9e6").text("4d 3h");
svg.append("rect").attr("x",paneR).attr("y",y(lastPoc)-5).attr("width",36).attr("height",12).attr("fill","#2962e6");
svg.append("text").attr("x",1426).attr("y",y(lastPoc)+4.6).attr("text-anchor","middle").attr("font-size",10.2).attr("font-weight",700).attr("fill","#fff").text(lastPoc.toFixed(2));

// ---- time axis
svg.append("line").attr("x1",paneL).attr("x2",1447).attr("y1",685.5).attr("y2",685.5).attr("stroke","#555c66");
svg.append("rect").attr("x",paneL).attr("y",686).attr("width",1439).attr("height",20).attr("fill","#fff");
svg.append("line").attr("x1",paneR).attr("x2",paneR).attr("y1",686).attr("y2",706).attr("stroke","#555c66");
defs.append("clipPath").attr("id","axisClip").append("rect").attr("x",paneL).attr("y",0).attr("width",1399).attr("height",30);
const xAxis = d3.axisBottom(x).tickValues(tickWeeks).tickFormat((d,i)=>tickLabels[i]).tickSize(0).tickPadding(5);
const xG = svg.append("g").attr("transform","translate(0,685.5)").attr("clip-path","url(#axisClip)").call(xAxis);
xG.select(".domain").remove();
xG.selectAll("text").attr("font-size",10.6).attr("fill","#5d6066").attr("font-family",'Lato, sans-serif')
  .filter((d,i)=>/^20/.test(tickLabels[i])).attr("font-size",11).attr("font-weight",700).attr("fill","#444");
crossWeeks.forEach((w,i)=>{
  svg.append("rect").attr("x",x(w)-35).attr("y",685.5).attr("width",70).attr("height",17.5).attr("fill","#2161e8");
  svg.append("text").attr("x",x(w)).attr("y",698).attr("text-anchor","middle").attr("font-size",9.4).attr("font-weight",700).attr("fill","#fff").text(crossLabels[i]);
});

// ---- checklist table
const tableX = 1213, colW = [139,48], rowH = 23.8, tableY = 28;
const table = svg.append("g");
const tableRows = [{label:"BUYING CHECKLIST: MSFT",status:"STATUS",head:true}].concat(checkLabels.map((l,i)=>({label:l,status:checkStatus[i]})));
tableRows.forEach((r,i)=>{
  const ry = tableY+i*rowH, isCtx = r.status==="", isAll = i==tableRows.length-1;
  const leftFill = r.head||isAll?"#2f3542":isCtx?"#787b86":"#1c1c1e";
  const rightFill = r.head?"#2f3542":isCtx?"#787b86":r.status=="✓"?"#43a548":"#f6504f";
  const labelSize = (r.head||isAll||isCtx)?10.1:10.8;
  if (isCtx) {
    table.append("rect").attr("x",tableX).attr("y",ry).attr("width",colW[0]+colW[1]).attr("height",rowH).attr("fill",leftFill).attr("stroke","#787b86").attr("stroke-width",1.6);
    table.append("text").attr("x",tableX+colW[0]/2+1).attr("y",ry+15.8).attr("text-anchor","middle").attr("font-size",labelSize).attr("font-weight",700).attr("fill","#fff").text(r.label);
    return;
  }
  table.append("rect").attr("x",tableX).attr("y",ry).attr("width",colW[0]).attr("height",rowH).attr("fill",leftFill).attr("stroke","#787b86").attr("stroke-width",1.6);
  table.append("rect").attr("x",tableX+colW[0]).attr("y",ry).attr("width",colW[1]).attr("height",rowH).attr("fill",rightFill).attr("stroke","#787b86").attr("stroke-width",1.6);
  table.append("text").attr("x",r.head?tableX+7:tableX+5).attr("y",ry+15.8).attr("font-size",labelSize).attr("font-weight",500).attr("fill","#f4f4f4").text(r.label);
  table.append("text").attr("x",tableX+colW[0]+colW[1]/2).attr("y",ry+15.8).attr("text-anchor","middle").attr("font-size",r.status.length==1?12:10.1)
    .attr("font-weight",r.status.length==1?700:500).attr("font-family",r.status.length==1?'"DejaVu Sans"':null).attr("fill","#fff").text(r.status);
});

// ---- logo
const logo = svg.append("g").attr("fill","#131722");
logo.append("path").attr("d","M9,724.2H21.4V737H15.2V730.4H9Z");
logo.append("circle").attr("cx",25).attr("cy",727.2).attr("r",3);
logo.append("path").attr("d","M26.4,724.2H34L28.6,737H21.2Z");
svg.append("text").attr("class","note").attr("x",38.5).attr("y",736.5).attr("font-size",16.2).attr("font-weight",600).attr("fill","#131722").text("TradingView");
</script>
</body>
</html>
